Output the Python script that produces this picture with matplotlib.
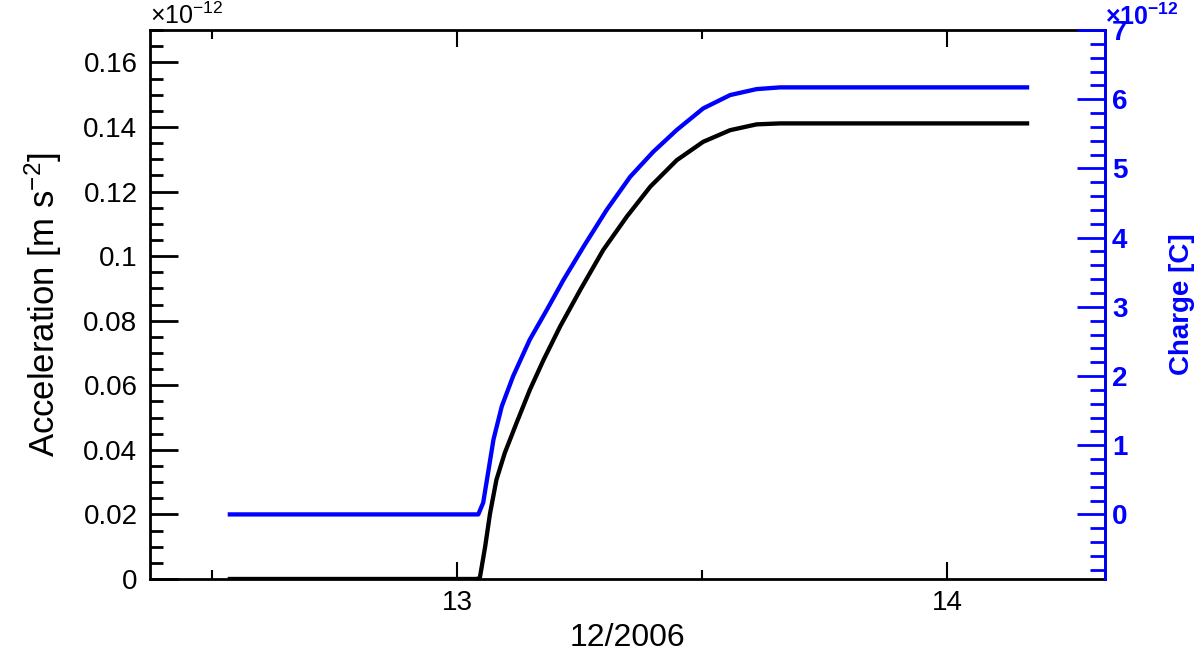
import matplotlib
matplotlib.use("Agg")
import matplotlib.pyplot as plt
from matplotlib.ticker import MultipleLocator, FormatStrFormatter, FixedLocator

plt.rcParams['font.family'] = ['Liberation Sans', 'DejaVu Sans']
plt.rcParams['mathtext.fontset'] = 'custom'
plt.rcParams['mathtext.rm'] = 'Liberation Sans'
plt.rcParams['mathtext.it'] = 'Liberation Sans:italic'
plt.rcParams['mathtext.bf'] = 'Liberation Sans:bold'

# Tag im Dezember 2006
day = [12.536, 13.038, 13.046, 13.057, 13.067, 13.080, 13.097, 13.121, 13.148,
       13.176, 13.210, 13.251, 13.298, 13.346, 13.394, 13.448, 13.502, 13.557,
       13.611, 13.659, 14.163]
# Beschleunigung in 1e-12 m s^-2
accel = [0.0, 0.0, 0.0002, 0.0100, 0.0203, 0.0307, 0.0390, 0.0483, 0.0585,
         0.0678, 0.0782, 0.0895, 0.1019, 0.1122, 0.1215, 0.1297, 0.1354, 0.1390,
         0.1408, 0.1411, 0.1411]

day_q = [12.536, 13.043, 13.053, 13.063, 13.074, 13.091, 13.114, 13.148, 13.183,
         13.217, 13.258, 13.305, 13.353, 13.400, 13.448, 13.502, 13.557, 13.611,
         13.659, 14.163]
# Ladung in 1e-12 C
charge = [0.0, 0.0, 0.169, 0.602, 1.082, 1.563, 1.996, 2.525, 2.958,
          3.391, 3.872, 4.401, 4.880, 5.240, 5.556, 5.868, 6.061, 6.147,
          6.172, 6.172]

blue = '#0000ff'

fig = plt.figure(figsize=(12, 6.54), dpi=100)
ax = fig.add_axes([0.125, 0.1147, 0.7958, 0.8393])
ax.plot(day, accel, color='black', lw=3.1, solid_joinstyle='round')
ax.set_xlim(12.373, 14.322)
ax.set_ylim(0, 0.17)

ax.xaxis.set_major_locator(FixedLocator([13, 14]))
ax.xaxis.set_minor_locator(FixedLocator([12.5, 13.5]))
ax.yaxis.set_major_locator(MultipleLocator(0.02))
ax.yaxis.set_minor_locator(MultipleLocator(0.005))
ax.yaxis.set_major_formatter(FormatStrFormatter('%g'))
ax.xaxis.set_major_formatter(FormatStrFormatter('%g'))

ax.tick_params(axis='y', which='both', direction='in', left=True, right=False,
               labelsize=20, width=2, pad=9)
ax.tick_params(axis='y', which='major', length=20)
ax.tick_params(axis='y', which='minor', length=9.5)
ax.tick_params(axis='x', which='both', direction='in', top=True, bottom=True,
               labelsize=20, width=1.5, pad=8)
ax.tick_params(axis='x', which='major', length=12)
ax.tick_params(axis='x', which='minor', length=6.5)
for s in ax.spines.values():
    s.set_linewidth(2)

ax.set_xlabel('12/2006', fontsize=23, labelpad=5)
ax.set_ylabel('Acceleration [m s$^{-2}$]', fontsize=25, labelpad=14)
ax.text(0.0, 1.002, r'$\times10^{-12}$', transform=ax.transAxes,
        ha='left', va='bottom', fontsize=18)

ax2 = ax.twinx()
ax2.plot(day_q, charge, color=blue, lw=3.1, solid_joinstyle='round')
ax2.set_ylim(-0.9333, 7)
ax2.yaxis.set_major_locator(MultipleLocator(1))
ax2.yaxis.set_minor_locator(MultipleLocator(0.2))
ax2.yaxis.set_major_formatter(FormatStrFormatter('%g'))
ax2.tick_params(axis='y', which='both', direction='in', colors=blue,
                labelsize=20, width=2, pad=5)
ax2.tick_params(axis='y', which='major', length=20)
ax2.tick_params(axis='y', which='minor', length=10.5)
for lab in ax2.get_yticklabels():
    lab.set_fontweight('bold')
ax2.spines['right'].set_color(blue)
ax2.spines['right'].set_linewidth(2)
for k in ('left', 'top', 'bottom'):
    ax2.spines[k].set_visible(False)
ax2.set_ylabel('Charge [C]', color=blue, fontsize=20, fontweight='bold', labelpad=30)
ax2.text(1.0, 1.0, r'$\mathbf{\times10^{-12}}$', transform=ax2.transAxes,
         ha='left', va='bottom', fontsize=18, color=blue)

fig.savefig('out.png', dpi=100)
